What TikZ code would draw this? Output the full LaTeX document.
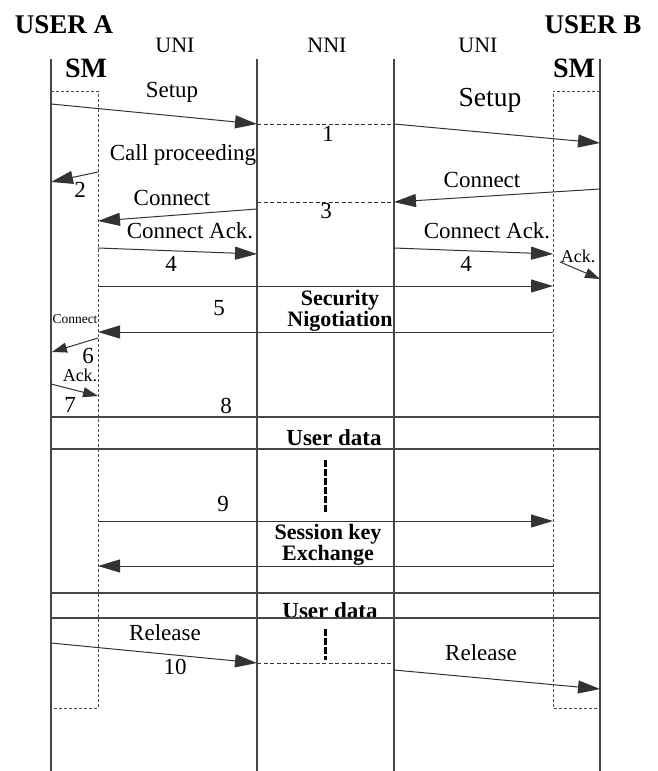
\documentclass[tikz,border=0pt]{standalone}
\usepackage{fontspec}
\setmainfont{Liberation Serif}
\usetikzlibrary{arrows.meta}
\begin{document}
\begin{tikzpicture}[x=1pt,y=-1pt,
  life/.style={line width=1.3pt, draw=black!72},
  hline/.style={line width=1.2pt, draw=black!72},
  msg/.style={line width=1pt, draw=black!80, -{Triangle[length=22pt,width=13pt]}},
  smsg/.style={line width=1pt, draw=black!80, -{Triangle[length=15pt,width=10pt]}},
  dbox/.style={line width=0.9pt, draw=black!70, dash pattern=on 3pt off 2pt},
  dlink/.style={line width=0.9pt, draw=black!80, dash pattern=on 4pt off 2.5pt},
  thickdash/.style={line width=3pt, draw=black, dash pattern=on 7pt off 2pt},
  hdr/.style={font=\fontsize{27}{30}\selectfont\bfseries, inner sep=0pt},
  smh/.style={font=\fontsize{28}{30}\selectfont\bfseries, inner sep=0pt},
  sub/.style={font=\fontsize{22}{24}\selectfont, inner sep=0pt},
  lbl/.style={font=\fontsize{23}{25}\selectfont, inner sep=0pt},
  big/.style={font=\fontsize{27.5}{30}\selectfont, inner sep=0pt},
  blbl/.style={font=\fontsize{22}{18.5}\selectfont\bfseries, inner sep=0pt, align=center},
  udl/.style={font=\fontsize{23}{25}\selectfont\bfseries, inner sep=0pt},
  sml/.style={font=\fontsize{18}{20}\selectfont, inner sep=0pt},
  tiny/.style={font=\fontsize{13.5}{15}\selectfont, inner sep=0pt},
  num/.style={font=\fontsize{23}{25}\selectfont, inner sep=0pt}
]
\useasboundingbox (0,0) rectangle (657,771);
\fill[white] (0,0) rectangle (657,771);

% headers
\node[hdr] (ua) at (64,25) {USER A};
\node[hdr] (ub) at (593,25) {USER B};
\node[sub] (uni1) at (175,45) {UNI};
\node[sub] (nni) at (327,45) {NNI};
\node[sub] (uni2) at (478,45) {UNI};
\node[smh] (sma) at (86,68) {SM};
\node[smh] (smb) at (574,68) {SM};

% lifelines
\coordinate (a0) at (51,59);  \coordinate (a1) at (51,771);
\coordinate (u0) at (257,59); \coordinate (u1) at (257,771);
\coordinate (n0) at (394,59); \coordinate (n1) at (394,771);
\coordinate (b0) at (600,59); \coordinate (b1) at (600,771);
\draw[life] (a0) -- (a1);
\draw[life] (u0) -- (u1);
\draw[life] (n0) -- (n1);
\draw[life] (b0) -- (b1);

% SM boxes
\coordinate (sa1) at (51,91); \coordinate (sa2) at (98,91);
\coordinate (sa3) at (98,708); \coordinate (sa4) at (51,708);
\draw[dbox] (sa1) -- (sa2) -- (sa3) -- (sa4);
\coordinate (sb1) at (600,91); \coordinate (sb2) at (553,91);
\coordinate (sb3) at (553,708); \coordinate (sb4) at (600,708);
\draw[dbox] (sb1) -- (sb2) -- (sb3) -- (sb4);

% 1 Setup
\coordinate (s1a) at (51,104); \coordinate (s1b) at (257,124);
\coordinate (s1c) at (394,124); \coordinate (s1d) at (600,143);
\draw[msg] (s1a) -- (s1b);
\draw[dlink] (s1b) -- (s1c);
\draw[msg] (s1c) -- (s1d);
\node[lbl] (tsetup1) at (172,92) {Setup};
\node[num] (t1) at (328,134) {1};
\node[big] (tsetup2) at (490,100) {Setup};

% 2 Call proceeding
\coordinate (c2a) at (98,172); \coordinate (c2b) at (51,182);
\draw[msg] (c2a) -- (c2b);
\node[lbl] (tcp) at (183,155) {Call proceeding};
\node[num] (t2) at (80,190) {2};

% 3 Connect
\coordinate (c3a) at (600,189); \coordinate (c3b) at (394,202);
\coordinate (c3c) at (257,202);
\coordinate (c3d) at (257,209); \coordinate (c3e) at (98,221);
\draw[msg] (c3a) -- (c3b);
\draw[dlink] (c3c) -- (c3b);
\draw[msg] (c3d) -- (c3e);
\node[lbl] (tconn2) at (482,180) {Connect};
\node[num] (t3) at (326,211) {3};
\node[lbl] (tconn1) at (172,198) {Connect};

% 4 Connect Ack.
\coordinate (c4a) at (98,248); \coordinate (c4b) at (257,254);
\coordinate (c4c) at (394,248); \coordinate (c4d) at (553,254);
\draw[msg] (c4a) -- (c4b);
\draw[msg] (c4c) -- (c4d);
\node[lbl] (tca1) at (190,231) {Connect Ack.};
\node[lbl] (tca2) at (487,231) {Connect Ack.};
\node[num] (t4a) at (171,264) {4};
\node[num] (t4b) at (466,264) {4};
\coordinate (akra) at (560,262); \coordinate (akrb) at (600,279);
\draw[smsg] (akra) -- (akrb);
\node[sml] (tackr) at (578,256) {Ack.};

% 5 Security negotiation
\coordinate (c5a) at (98,286); \coordinate (c5b) at (553,286);
\coordinate (c5c) at (553,332); \coordinate (c5d) at (98,332);
\draw[msg] (c5a) -- (c5b);
\draw[msg] (c5c) -- (c5d);
\node[num] (t5) at (219,308) {5};
\node[blbl] (tsec) at (340,311) {Security\\Nigotiation};

% 6 / 7
\node[tiny] (tconn3) at (75,319) {Connect};
\coordinate (c6a) at (98,338); \coordinate (c6b) at (52,352);
\draw[smsg] (c6a) -- (c6b);
\node[num] (t6) at (88,356) {6};
\node[sml] (tackl) at (80,375) {Ack.};
\coordinate (c7a) at (51,384); \coordinate (c7b) at (98,396);
\draw[smsg] (c7a) -- (c7b);
\node[num] (t7) at (70,405) {7};
\node[num] (t8) at (226,406) {8};

% user data 1
\coordinate (h1a) at (51,417); \coordinate (h1b) at (600,417);
\coordinate (h2a) at (51,449); \coordinate (h2b) at (600,449);
\draw[hline] (h1a) -- (h1b);
\draw[hline] (h2a) -- (h2b);
\node[udl] (tud1) at (334,438) {User data};
\coordinate (d1a) at (325,460); \coordinate (d1b) at (325,513);
\draw[thickdash] (d1a) -- (d1b);

% 9 session key
\node[num] (t9) at (223,504) {9};
\coordinate (c9a) at (98,521); \coordinate (c9b) at (553,521);
\coordinate (c9c) at (553,566); \coordinate (c9d) at (98,566);
\draw[msg] (c9a) -- (c9b);
\draw[msg] (c9c) -- (c9d);
\node[blbl] (tsk) at (328,545) {Session key\\Exchange};

% user data 2
\coordinate (h3a) at (51,593); \coordinate (h3b) at (600,593);
\coordinate (h4a) at (51,618); \coordinate (h4b) at (600,618);
\draw[hline] (h3a) -- (h3b);
\node[udl] (tud2) at (330,611) {User data};
\draw[hline] (h4a) -- (h4b);
\coordinate (d2a) at (325,629); \coordinate (d2b) at (325,660);
\draw[thickdash] (d2a) -- (d2b);

% 10 release
\coordinate (r1) at (51,643); \coordinate (r2) at (257,663);
\coordinate (r3) at (394,663); \coordinate (r4) at (394,670);
\coordinate (r5) at (600,689);
\draw[msg] (r1) -- (r2);
\draw[dlink] (r2) -- (r3);
\draw[msg] (r4) -- (r5);
\node[lbl] (trel1) at (165,633) {Release};
\node[num] (t10) at (175,667) {10};
\node[lbl] (trel2) at (481,653) {Release};
\end{tikzpicture}
\end{document}
